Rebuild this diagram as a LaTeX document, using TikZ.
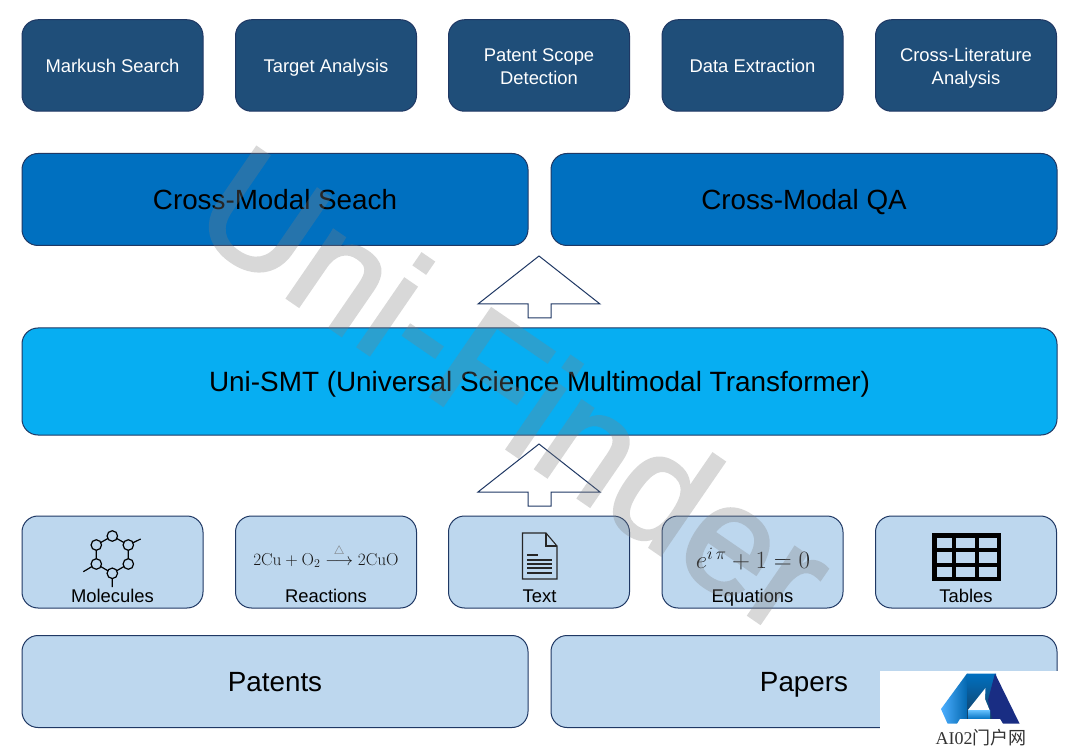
\documentclass[tikz,border=0pt]{standalone}
\usepackage[no-math]{fontspec}
\usepackage{amsmath}
\setmainfont{Liberation Sans}
\newfontfamily\logoserif{Liberation Serif}
\newfontfamily\logocjk{Noto Sans CJK SC}
\newfontfamily\wmfont[FakeBold=2]{Liberation Sans}
\definecolor{edgeblue}{HTML}{1F3864}
\definecolor{navybox}{HTML}{1F4E79}
\definecolor{midbox}{HTML}{0070C0}
\definecolor{brightbox}{HTML}{07AEF2}
\definecolor{palebox}{HTML}{BDD7EE}
\tikzset{
  basebox/.style={draw=edgeblue,line width=1pt,rounded corners=16pt,inner sep=0pt,outer sep=0pt,align=center,text=black},
  smallline/.style={text height=13.2pt,text depth=0pt},
  bigline/.style={text height=19.9pt,text depth=0pt},
  appbox/.style={basebox,fill=navybox,minimum width=181pt,minimum height=91.5pt},
  applabel/.style={inner sep=0pt,align=center,text=white,font=\fontsize{18.4}{23}\selectfont},
  widebox/.style={basebox,bigline,minimum width=506pt,minimum height=92pt,font=\fontsize{27.8}{32}\selectfont},
  modbox/.style={basebox,fill=palebox,minimum width=181pt,minimum height=92pt},
  modlabel/.style={inner sep=0pt,smallline,font=\fontsize{18.4}{22}\selectfont,text=black},
  blockarrow/.style={draw=edgeblue,line width=1pt,fill=white,line join=miter},
  atom/.style={draw=black,line width=1.2pt,fill=palebox,circle,minimum size=10.5pt,inner sep=0pt},
  bond/.style={draw=black,line width=1.2pt},
}
\begin{document}
\begin{tikzpicture}[x=1pt,y=-1pt]
\useasboundingbox (0,0) rectangle (1080,746);
\fill[white] (0,0) rectangle (1080,746);
% top row
\node[appbox] (a1) at (112.5,65.5) {};
\node[appbox] (a2) at (326,65.5) {};
\node[appbox] (a3) at (539,65.5) {};
\node[appbox] (a4) at (752.5,65.5) {};
\node[appbox] (a5) at (966,65.5) {};
\node[applabel,smallline] (t1) at (112.5,65.5) {Markush Search};
\node[applabel,smallline] (t2) at (326,65.5) {Target Analysis};
\node[applabel] (t3) at (539,66.5) {Patent Scope\\Detection};
\node[applabel,smallline] (t4) at (752.5,65.5) {Data Extraction};
\node[applabel] (t5) at (966,68) {Cross-Literature\\Analysis};
% second row
\node[widebox,fill=midbox] (s) at (275,199.5) {Cross-Modal Seach};
\node[widebox,fill=midbox] (q) at (804,199.5) {Cross-Modal QA};
% arrows
\draw[blockarrow] (539,256) -- (600,304) -- (551,304) -- (551,318) -- (528,318) -- (528,304) -- (478,304) -- cycle;
\node[basebox,bigline,fill=brightbox,minimum width=1035pt,minimum height=107pt,font=\fontsize{27.9}{32}\selectfont] (u) at (539.5,381.5) {Uni-SMT (Universal Science Multimodal Transformer)};
\draw[blockarrow] (539,444) -- (600,492) -- (551,492) -- (551,506) -- (528,506) -- (528,492) -- (478,492) -- cycle;
% modality row
\node[modbox] (m1) at (112.5,562) {};
\node[modbox] (m2) at (326,562) {};
\node[modbox] (m3) at (539,562) {};
\node[modbox] (m4) at (752.5,562) {};
\node[modbox] (m5) at (966,562) {};
\node[modlabel] (l1) at (112.5,595.5) {Molecules};
\node[modlabel] (l2) at (326,595.5) {Reactions};
\node[modlabel] (l3) at (539.5,595.5) {Text};
\node[modlabel] (l4) at (752.5,595.5) {Equations};
\node[modlabel] (l5) at (966,595.5) {Tables};
% molecule
\draw[bond] (128.3,545) -- (140.7,539) (96.3,564) -- (83.3,571.7) (112.3,573.3) -- (112.3,587);
\draw[bond] (112.3,536) -- (128.3,545) -- (128.3,564) -- (112.3,573.3) -- (96.3,564) -- (96.3,545) -- cycle;
\node[atom] (c1) at (112.3,536) {};
\node[atom] (c2) at (128.3,545) {};
\node[atom] (c3) at (128.3,564) {};
\node[atom] (c4) at (112.3,573.3) {};
\node[atom] (c5) at (96.3,564) {};
\node[atom] (c6) at (96.3,545) {};
% reaction
\node[inner sep=0pt,text=black!90] (rx) at (326,556) {\fontsize{17.6}{20}\selectfont $2\mathrm{Cu}+\mathrm{O}_2\overset{\textcolor{black!55}{\triangle}}{\longrightarrow}2\mathrm{CuO}$};
% document icon
\draw[line width=1.1pt,fill=palebox,line join=miter,draw=black!85] (522.5,533) -- (546,533) -- (557,546) -- (557,579) -- (522.5,579) -- cycle;
\draw[line width=1.1pt,draw=black!85] (546,533) -- (546,546) -- (557,546);
\draw[line width=1.2pt,draw=black!85] (527,555) -- (538,555) (527,560) -- (552,560) (527,564) -- (552,564) (527,568) -- (552,568) (527,573) -- (552,573);
% equation
\node[inner sep=0pt,text=black!90] (eq) at (753,559) {\fontsize{23.7}{28}\selectfont $e^{i\,\pi}+1=0$};
% table
\fill[black] (932,533) rectangle (1001,581);
\foreach \xa/\xb in {936.5/952,956/975,979/996.5}
  \foreach \ya/\yb in {537.5/548,552/562.5,566.5/576.5}
    \fill[palebox] (\xa,\ya) rectangle (\xb,\yb);
% sources
\node[widebox,fill=palebox] (p1) at (275,681.5) {Patents};
\node[widebox,fill=palebox] (p2) at (804,681.5) {Papers};
% watermark
\begin{scope}[transparency group,opacity=0.3]
\node[rotate=-34.5,inner sep=0pt,text=black!50,font=\wmfont\fontsize{155}{165}\selectfont] (wm) at (516,388) {Uni-Finder};
\end{scope}
% logo patch
\fill[white] (880,671) rectangle (1080,746);
\shade[left color=cyan!55!blue!70,right color=midbox!90!black] (967,673.5) -- (941,709) -- (947.5,723.5) -- (968,723.5) -- (968,673.5) -- cycle;
\shade[top color=midbox,bottom color=navybox!75!black] (967.5,673.5) -- (996,673.5) -- (1001,723.5) -- (967.5,723.5) -- cycle;
\fill[edgeblue!80!blue] (995,673.5) -- (1019.5,723.5) -- (993,723.5) -- (988,700) -- cycle;
\fill[white] (985.5,688) -- (968,710) -- (989.5,710) -- (985,699) -- cycle;
\shade[top color=cyan!60!blue!60,bottom color=midbox] (968,710) rectangle (990,719);
\fill[white] (960,719) -- (1000,719) -- (1003,724) -- (957,724) -- cycle;
\node[inner sep=0pt,text=black!80,anchor=base] (logotext) at (981,744) {\fontsize{18}{19}\selectfont\logoserif AI02\logocjk 门户网};
\end{tikzpicture}
\end{document}
